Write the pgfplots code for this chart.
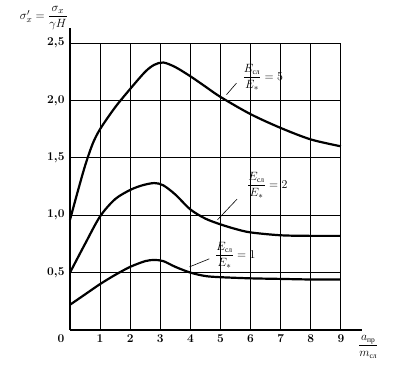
\documentclass[border=0pt]{standalone}
\usepackage{fontspec}
\usepackage{pgfplots}
\pgfplotsset{compat=1.18}
\newfontfamily\cyr{Liberation Serif}
\newcommand{\cyrs}[1]{\mbox{\cyr\fontsize{7.5}{8}\selectfont #1}}
\begin{document}
\begin{tikzpicture}
\begin{axis}[
  x=30.1bp, y=114.8bp,
  xmin=0, xmax=9.7, ymin=0, ymax=2.63,
  axis lines=left,
  axis line style={-, line width=2.2bp},
  clip=false,
  xtick={1,2,3,4,5,6,7,8,9},
  ytick={0.5,1.0,1.5,2.0,2.5},
  major tick length=0pt,
  tick label style={font=\fontsize{13}{15}\selectfont\boldmath},
  yticklabel={\pgfmathprintnumber[fixed,fixed zerofill,precision=1,use comma]{\tick}},
  yticklabel style={xshift=-2bp},
  xticklabel style={yshift=-1bp},
]
% grid
\draw[line width=0.8bp] (axis cs:0,0.5) -- (axis cs:9,0.5);
\draw[line width=0.8bp] (axis cs:0,1.0) -- (axis cs:9,1.0);
\draw[line width=0.8bp] (axis cs:0,1.5) -- (axis cs:9,1.5);
\draw[line width=0.8bp] (axis cs:0,2.0) -- (axis cs:9,2.0);
\draw[line width=0.8bp] (axis cs:0,2.5) -- (axis cs:9,2.5);
\draw[line width=0.8bp] (axis cs:1,0) -- (axis cs:1,2.5);
\draw[line width=0.8bp] (axis cs:2,0) -- (axis cs:2,2.5);
\draw[line width=0.8bp] (axis cs:3,0) -- (axis cs:3,2.5);
\draw[line width=0.8bp] (axis cs:4,0) -- (axis cs:4,2.5);
\draw[line width=0.8bp] (axis cs:5,0) -- (axis cs:5,2.5);
\draw[line width=0.8bp] (axis cs:6,0) -- (axis cs:6,2.5);
\draw[line width=0.8bp] (axis cs:7,0) -- (axis cs:7,2.5);
\draw[line width=0.8bp] (axis cs:8,0) -- (axis cs:8,2.5);
\draw[line width=0.8bp] (axis cs:9,0) -- (axis cs:9,2.5);

% E = 5
\addplot[black, line width=2.2bp, smooth] coordinates {
 (0,0.96) (0.25,1.2) (0.5,1.43) (0.75,1.62) (1,1.75) (1.5,1.94)
 (2,2.1) (2.5,2.25) (2.8,2.31) (3.1,2.33) (3.5,2.29) (4,2.21) (4.5,2.12)
 (5,2.03) (6,1.88) (7,1.76) (8,1.66) (9,1.6)};
% E = 2
\addplot[black, line width=2.2bp, smooth] coordinates {
 (0,0.5) (0.5,0.75) (1,0.99) (1.5,1.14) (2,1.22) (2.4,1.26) (2.8,1.28)
 (3.1,1.26) (3.5,1.18) (4,1.05) (4.5,0.97) (5,0.92) (5.5,0.88) (6,0.85)
 (7,0.825) (8,0.82) (9,0.82)};
% E = 1
\addplot[black, line width=2.2bp, smooth] coordinates {
 (0,0.22) (0.5,0.31) (1,0.4) (1.5,0.48) (2,0.55) (2.5,0.6) (2.8,0.61)
 (3.1,0.6) (3.5,0.55) (4,0.5) (4.5,0.47) (5,0.46) (6,0.45) (7,0.445)
 (8,0.44) (9,0.44)};

% leaders
\draw[line width=0.6bp] (axis cs:5.2,2.05) -- (axis cs:5.53,2.15);
\draw[line width=0.6bp] (axis cs:4.9,0.96) -- (axis cs:5.55,1.14);
\draw[line width=0.6bp] (axis cs:3.97,0.55) -- (axis cs:4.63,0.62);

% curve labels
\node[anchor=west, inner sep=0pt, font=\fontsize{12.5}{14}\selectfont] at (axis cs:5.73,2.2)
  {$\displaystyle\frac{E_{\cyrs{сл}}}{E_*}=5$};
\node[anchor=west, inner sep=0pt, font=\fontsize{12.5}{14}\selectfont] at (axis cs:5.88,1.26)
  {$\displaystyle\frac{E_{\cyrs{сл}}}{E_*}=2$};
\node[anchor=west, inner sep=0pt, font=\fontsize{12.5}{14}\selectfont] at (axis cs:4.82,0.65)
  {$\displaystyle\frac{E_{\cyrs{сл}}}{E_*}=1$};

% origin label
\node[anchor=north, inner sep=0pt, font=\fontsize{13}{15}\selectfont\boldmath] at ([xshift=-9bp, yshift=-5bp]axis cs:0,0) {$0$};

% axis titles
\node[anchor=east, inner sep=0pt, font=\fontsize{12.5}{14}\selectfont] at ([xshift=-2bp, yshift=312bp]axis cs:0,0)
  {$\sigma'_x=\displaystyle\frac{\sigma_x}{\gamma H}$};
\node[anchor=west, inner sep=0pt, font=\fontsize{12.5}{14}\selectfont] at ([xshift=-4bp, yshift=-17bp]axis cs:9.7,0)
  {$\displaystyle\frac{a_{\cyrs{пр}}}{m_{\cyrs{сл}}}$};

\coordinate (O) at (axis cs:0,0);
\end{axis}
\path (O) ++(-70bp,-39bp) rectangle ++(409bp,369bp);
\end{tikzpicture}
\end{document}
